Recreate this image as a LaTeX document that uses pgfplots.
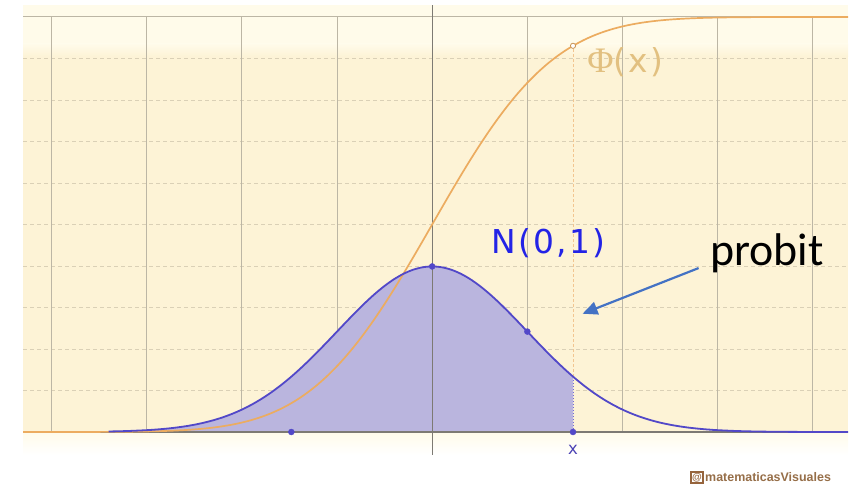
\documentclass[border=0pt]{standalone}
\usepackage{pgfplots}
\pgfplotsset{compat=1.18}
\usepackage{pgfplotstable}
\usetikzlibrary{arrows.meta}
\usepackage{fontspec}
\setmainfont{DejaVu Sans}
\newfontfamily\ggbfont[LetterSpace=7]{DejaVu Sans}
\newfontfamily\monofont{DejaVu Sans Mono}
\newfontfamily\serifphi{Liberation Serif}
\newfontfamily\calibfont{Carlito}
\newfontfamily\wmfont{Liberation Sans}

\definecolor{cream}{RGB}{255,251,234}
\definecolor{beige}{RGB}{253,243,214}
\definecolor{gridsolid}{RGB}{188,182,165}
\definecolor{griddash}{RGB}{218,208,182}
\definecolor{axisgray}{RGB}{125,122,115}
\definecolor{cdforange}{RGB}{236,172,96}
\definecolor{pdfblue}{RGB}{82,72,200}
\definecolor{pdffill}{RGB}{186,181,222}
\definecolor{nblue}{RGB}{35,35,230}
\definecolor{phitan}{RGB}{226,192,128}
\definecolor{arrowblue}{RGB}{68,114,196}
\definecolor{wmtext}{RGB}{150,110,72}
\definecolor{wmbrown}{RGB}{150,100,60}

% standard normal: x, density, distribution function
\pgfplotstableread{
x      pdf      cdf
-4.30  0.00004  0.00001
-4.00  0.00013  0.00003
-3.80  0.00029  0.00007
-3.60  0.00061  0.00016
-3.40  0.00123  0.00034
-3.20  0.00238  0.00069
-3.00  0.00443  0.00135
-2.90  0.00595  0.00187
-2.80  0.00792  0.00256
-2.70  0.01042  0.00347
-2.60  0.01358  0.00466
-2.50  0.01753  0.00621
-2.40  0.02239  0.00820
-2.30  0.02833  0.01072
-2.20  0.03547  0.01390
-2.10  0.04398  0.01786
-2.00  0.05399  0.02275
-1.90  0.06562  0.02872
-1.80  0.07895  0.03593
-1.70  0.09405  0.04457
-1.60  0.11092  0.05480
-1.50  0.12952  0.06681
-1.40  0.14973  0.08076
-1.30  0.17137  0.09680
-1.20  0.19419  0.11507
-1.10  0.21785  0.13567
-1.00  0.24197  0.15866
-0.90  0.26609  0.18406
-0.80  0.28969  0.21186
-0.70  0.31225  0.24196
-0.60  0.33322  0.27425
-0.50  0.35207  0.30854
-0.40  0.36827  0.34458
-0.30  0.38139  0.38209
-0.20  0.39104  0.42074
-0.10  0.39695  0.46017
 0.00  0.39894  0.50000
 0.10  0.39695  0.53983
 0.20  0.39104  0.57926
 0.30  0.38139  0.61791
 0.40  0.36827  0.65542
 0.50  0.35207  0.69146
 0.60  0.33322  0.72575
 0.70  0.31225  0.75804
 0.80  0.28969  0.78814
 0.90  0.26609  0.81594
 1.00  0.24197  0.84134
 1.10  0.21785  0.86433
 1.20  0.19419  0.88493
 1.30  0.17137  0.90320
 1.40  0.14973  0.91924
 1.48  0.13344  0.93056
 1.50  0.12952  0.93319
 1.60  0.11092  0.94520
 1.70  0.09405  0.95543
 1.80  0.07895  0.96407
 1.90  0.06562  0.97128
 2.00  0.05399  0.97725
 2.10  0.04398  0.98214
 2.20  0.03547  0.98610
 2.30  0.02833  0.98928
 2.40  0.02239  0.99180
 2.50  0.01753  0.99379
 2.60  0.01358  0.99534
 2.70  0.01042  0.99653
 2.80  0.00792  0.99744
 2.90  0.00595  0.99813
 3.00  0.00443  0.99865
 3.20  0.00238  0.99931
 3.40  0.00123  0.99966
 3.60  0.00061  0.99984
 3.80  0.00029  0.99993
 4.00  0.00013  0.99997
 4.37  0.00003  0.99999
}\normaltable

\begin{document}
\begin{tikzpicture}[x=1bp,y=1bp]
\path[use as bounding box] (0,0) rectangle (856,484);
\begin{axis}[
  at={(23bp,29bp)}, anchor=south west,
  scale only axis, width=825bp, height=450bp,
  xmin=-4.30, xmax=4.37, ymin=-0.0554, ymax=1.0289,
  axis lines=none, xtick=\empty, ytick=\empty,
  clip=false,
]
  % background bands
  \fill[cream] (axis cs:-4.30,0.90) rectangle (axis cs:4.37,1.0289);
  \fill[beige] (axis cs:-4.30,0) rectangle (axis cs:4.37,0.905);
  \shade[top color=cream, bottom color=beige] (axis cs:-4.30,0.935) rectangle (axis cs:4.37,0.905);
  \shade[top color=cream, bottom color=white] (axis cs:-4.30,0) rectangle (axis cs:4.37,-0.0554);

  % grid
  \pgfplotsinvokeforeach{0.1,0.2,0.3,0.4,0.5,0.6,0.7,0.8,0.9}{
    \draw[griddash, line width=0.9bp, dash pattern=on 4bp off 3bp] (axis cs:-4.30,#1) -- (axis cs:4.37,#1);
  }
  \pgfplotsinvokeforeach{-4,-3,-2,-1,1,2,3,4}{
    \draw[gridsolid, line width=1bp] (axis cs:#1,0) -- (axis cs:#1,1);
  }
  \draw[gridsolid, line width=1bp] (axis cs:-4.30,1) -- (axis cs:4.37,1);

  % shaded area under the density up to x
  \addplot[draw=none, fill=pdffill, restrict x to domain=-3.4:1.48]
    table[x=x, y=pdf] {\normaltable} \closedcycle;

  % axes
  \draw[axisgray, line width=1.1bp] (axis cs:-4.30,0) -- (axis cs:4.37,0);
  \draw[axisgray, line width=1.1bp] (axis cs:0,-0.0554) -- (axis cs:0,1.0289);

  % guides at x
  \draw[cdforange!70, line width=0.8bp, dash pattern=on 3bp off 2bp] (axis cs:1.48,0.13344) -- (axis cs:1.48,0.93056);
  \draw[pdfblue!80, line width=0.9bp, dash pattern=on 1.5bp off 1.5bp] (axis cs:1.48,0) -- (axis cs:1.48,0.13344);

  % distribution function and density
  \addplot[cdforange, line width=1.7bp, smooth] table[x=x, y=cdf] {\normaltable};
  \addplot[pdfblue, line width=1.8bp, smooth, restrict x to domain=-3.4:5]
    table[x=x, y=pdf] {\normaltable};

  % points
  \addplot[only marks, mark=*, mark size=3bp, color=pdfblue] coordinates {(0,0.39894) (1,0.24197) (1.48,0) (-1.48,0)};
  \addplot[only marks, mark=*, mark size=2.6bp, draw=cdforange!85!black, fill=white, line width=0.8bp] coordinates {(1.48,0.93056)};

  % labels
  \node[nblue, font=\ggbfont\fontsize{33}{33}\selectfont, inner sep=0] at (axis cs:1.22,0.455) {N(0,1)};
  \node[phitan, font=\ggbfont\fontsize{33}{33}\selectfont, inner sep=0] at (axis cs:2.03,0.89) {{\serifphi\fontsize{36}{36}\selectfont Φ}(x)};
  \node[pdfblue!90!black, font=\monofont\fontsize{17}{17}\selectfont, inner sep=0] at (axis cs:1.48,-0.042) {x};
  \node[black, font=\calibfont\fontsize{46}{46}\selectfont, inner sep=0] at (axis cs:3.52,0.43) {probit};
  \draw[arrowblue, line width=2.2bp, -{Triangle[length=15bp,width=13bp]}] (axis cs:2.80,0.395) -- (axis cs:1.58,0.285);
\end{axis}
% site mark
\node[draw=wmbrown, line width=1.2bp, text=wmbrown, inner sep=0.5bp, minimum width=12bp, minimum height=11bp, font=\wmfont\bfseries\fontsize{10}{10}\selectfont] at (697,6.5) {@};
\node[anchor=west, wmtext, font=\wmfont\bfseries\fontsize{12.5}{12.5}\selectfont, inner sep=0] at (705,6.5) {matematicasVisuales};
\end{tikzpicture}
\end{document}
